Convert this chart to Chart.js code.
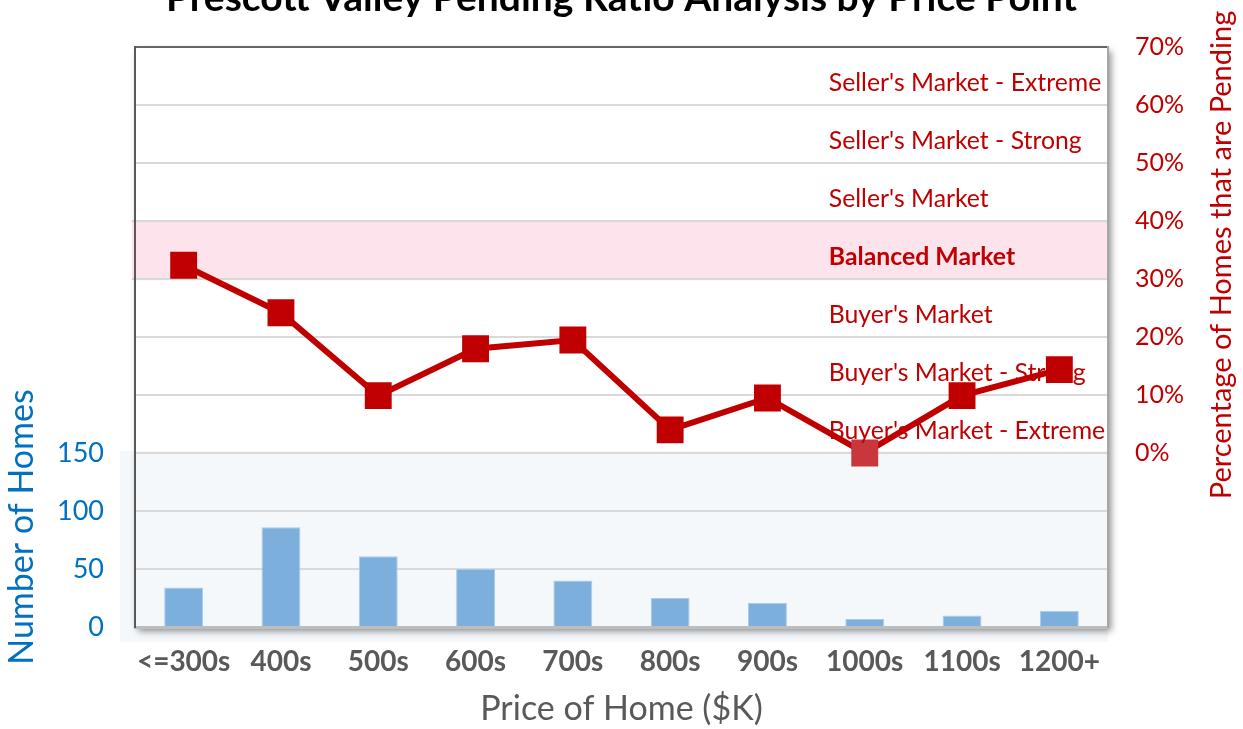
<!DOCTYPE html>
<html>
<head>
<meta charset="utf-8">
<script src="https://cdn.jsdelivr.net/npm/chart.js@4"></script>
<style>
  html, body { margin: 0; padding: 0; background: #ffffff; }
  #wrap { position: relative; width: 1243px; height: 729px; overflow: hidden; }
  canvas { display: block; }
</style>
</head>
<body>
<div id="wrap"><canvas id="c" width="1243" height="729"></canvas></div>
<script>
// ---- data ----
const chartTitle = "Prescott Valley Pending Ratio Analysis by Price Point";
const categories = ["<=300s", "400s", "500s", "600s", "700s", "800s", "900s", "1000s", "1100s", "1200+"];
const homeCounts = [34, 86, 61, 50, 40, 25, 21, 7, 10, 14];
const pendingPct = [32.4, 24.2, 9.9, 18.0, 19.5, 4.0, 9.5, 0, 9.9, 14.4];
const leftAxisTitle = "Number of Homes";
const rightAxisTitle = "Percentage of Homes that are Pending";
const xAxisTitle = "Price of Home ($K)";
const zoneNames = ["Seller's Market - Extreme", "Seller's Market - Strong", "Seller's Market", "Balanced Market", "Buyer's Market", "Buyer's Market - Strong", "Buyer's Market - Extreme"];
const zoneMidPct = [65, 55, 45, 35, 25, 15, 5];
const balancedBand = [30, 40];
const countShadeMax = 150;

const RED = "#c00000";
const BLUE = "#0070c0";
const GRAY = "#595959";
const FONT = "Lato, 'Open Sans', sans-serif";

const decorPlugin = {
  id: "decor",
  beforeDraw(chart) {
    const { ctx, chartArea: a, scales } = chart;
    const yB = scales.y, y2 = scales.y2;
    ctx.save();
    const blueTop = yB.getPixelForValue(countShadeMax) - 2;
    ctx.fillStyle = "#f4f8fb";
    ctx.fillRect(a.left - 15, blueTop, a.right - a.left + 15, a.bottom + 15 - blueTop);
    ctx.save();
    ctx.shadowColor = "rgba(0,0,0,0.45)";
    ctx.shadowBlur = 7;
    ctx.shadowOffsetX = 3;
    ctx.shadowOffsetY = 4;
    ctx.fillStyle = "#ffffff";
    ctx.fillRect(a.left, a.top, a.right - a.left, a.bottom - a.top);
    ctx.restore();
    ctx.fillStyle = "#f4f8fb";
    ctx.fillRect(a.left, blueTop, a.right - a.left, a.bottom - blueTop);
    const bTop = y2.getPixelForValue(balancedBand[1]);
    const bBot = y2.getPixelForValue(balancedBand[0]);
    ctx.fillStyle = "#fde4ec";
    ctx.fillRect(a.left - 3, bTop, a.right - a.left + 3, bBot - bTop);
    ctx.fillStyle = "#e2c6ce";
    ctx.fillRect(a.left - 3, bTop - 1, a.right - a.left + 3, 2);
    ctx.fillRect(a.left - 3, bBot - 1, a.right - a.left + 3, 2);
    ctx.restore();
  },
  afterDatasetsDraw(chart) {
    const { ctx, scales } = chart;
    const y2 = scales.y2, x = scales.x;
    ctx.save();
    ctx.fillStyle = RED;
    ctx.textAlign = "left";
    ctx.textBaseline = "middle";
    const lx = x.getPixelForValue(7) - 36;
    zoneNames.forEach((n, i) => {
      ctx.font = (n === "Balanced Market" ? "bold " : "") + "24.8px " + FONT;
      ctx.fillText(n, lx, y2.getPixelForValue(zoneMidPct[i]) + 7);
    });
    ctx.restore();
  },
  afterDraw(chart) {
    const { ctx } = chart;
    ctx.save();
    ctx.fillStyle = BLUE;
    ctx.font = "34px " + FONT;
    ctx.textAlign = "center";
    ctx.textBaseline = "middle";
    ctx.translate(22, 527);
    ctx.rotate(-Math.PI / 2);
    ctx.fillText(leftAxisTitle, 0, 0);
    ctx.restore();
    ctx.save();
    ctx.fillStyle = RED;
    ctx.font = "29px " + FONT;
    ctx.textAlign = "center";
    ctx.textBaseline = "middle";
    ctx.translate(1222, 255);
    ctx.rotate(-Math.PI / 2);
    ctx.fillText(rightAxisTitle, 0, 0);
    ctx.restore();
  }
};

new Chart(document.getElementById("c"), {
  data: {
    labels: categories,
    datasets: [
      {
        type: "line",
        label: "Pending %",
        data: pendingPct,
        yAxisID: "y2",
        order: 0,
        borderColor: RED,
        borderWidth: 6,
        pointStyle: "rect",
        pointRadius: 19,
        pointBorderWidth: 0,
        pointBackgroundColor: (c) => (c.parsed && c.parsed.y === 0 ? "#c9373d" : RED),
        tension: 0
      },
      {
        type: "bar",
        label: "Homes",
        data: homeCounts,
        yAxisID: "y",
        order: 1,
        backgroundColor: "#7dafdd",
        borderColor: "#a9cbea",
        borderWidth: { top: 1, left: 1, right: 1, bottom: 0 },
        categoryPercentage: 1,
        barPercentage: 0.4
      }
    ]
  },
  options: {
    responsive: false,
    animation: false,
    layout: { padding: 0 },
    plugins: {
      legend: { display: false },
      tooltip: { enabled: false },
      title: {
        display: true,
        text: chartTitle,
        color: "#000000",
        font: { family: FONT, size: 39, weight: "bold" },
        padding: { top: -25, bottom: 25.2 }
      }
    },
    scales: {
      x: {
        grid: { display: false, drawTicks: false },
        border: { color: "#bdbdbd", width: 3 },
        ticks: { color: GRAY, font: { family: FONT, size: 28, weight: "bold" }, padding: 18, maxRotation: 0, autoSkip: false },
        title: { display: true, text: xAxisTitle, color: GRAY, font: { family: FONT, size: 34 }, padding: { top: 0, bottom: 0 } },
        afterFit: (s) => { s.height = 102; }
      },
      y: {
        position: "left",
        min: 0, max: 500,
        grid: {
          drawTicks: false,
          color: (c) => (c.tick.value === 500 ? "#666666" : (c.tick.value === 0 ? "rgba(0,0,0,0)" : "#d9d9d9")),
          lineWidth: 2
        },
        border: { color: "#595959", width: 2 },
        ticks: {
          stepSize: 50,
          color: BLUE,
          font: { family: FONT, size: 27 },
          padding: 31,
          callback: (v) => (v <= countShadeMax ? v : "")
        },
        afterFit: (s) => { s.width = 135; }
      },
      y2: {
        position: "right",
        min: -30, max: 70,
        grid: { display: false, drawTicks: false },
        border: { color: "#a6a6a6", width: 2 },
        ticks: {
          stepSize: 10,
          color: RED,
          font: { family: FONT, size: 25 },
          padding: 27,
          callback: (v) => (v >= 0 ? v + "%" : "")
        },
        afterFit: (s) => { s.width = 135; }
      }
    }
  },
  plugins: [decorPlugin]
});
</script>
</body>
</html>
